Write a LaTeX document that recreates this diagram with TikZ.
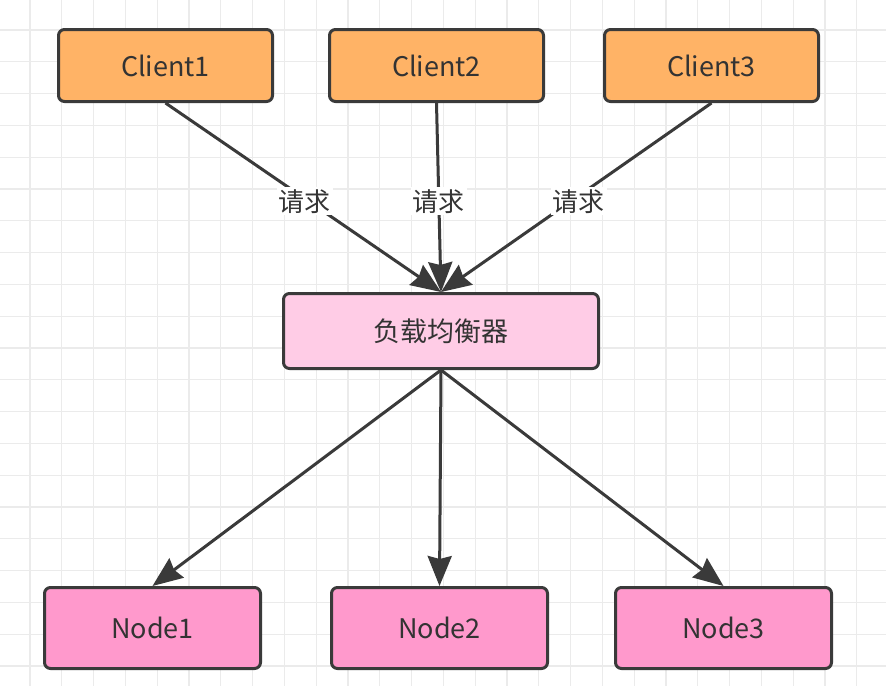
\documentclass[tikz,border=0pt]{standalone}
\usepackage{fontspec}
\setmainfont{Noto Sans CJK SC}
\usetikzlibrary{arrows.meta}
\definecolor{gridc}{HTML}{EBEBEB}
\definecolor{strokec}{HTML}{3A3A3A}
\definecolor{textc}{HTML}{333333}
\definecolor{clientc}{HTML}{FFB366}
\definecolor{lbc}{HTML}{FFCCE6}
\definecolor{nodec}{HTML}{FF99CC}
\tikzset{
  box/.style={draw=strokec, line width=3pt, rounded corners=6pt, text=textc,
    font=\fontsize{27}{30}\selectfont, anchor=north west, inner sep=0pt},
  clientbox/.style={box, fill=clientc, minimum width=214pt, minimum height=72pt},
  lbbox/.style={box, fill=lbc, minimum width=315pt, minimum height=75pt},
  nodebox/.style={box, fill=nodec, minimum width=216pt, minimum height=81pt},
  conn/.style={draw=strokec, line width=3pt, -{Stealth[length=30pt,width=24pt,inset=3pt]}},
  lbl/.style={fill=white, text=textc, font=\fontsize{26}{28}\selectfont, inner sep=2pt}
}
\begin{document}
\begin{tikzpicture}[x=1pt,y=-1pt]
\useasboundingbox (0,0) rectangle (886,686);
\fill[white] (0,0) rectangle (886,686);
\foreach \i in {0,...,27} {
  \draw[gridc, line width=1.2pt] ({30+31.8*\i},0) -- ({30+31.8*\i},686);
}
\foreach \j in {0,...,21} {
  \draw[gridc, line width=1.2pt] (0,{30+31.8*\j}) -- (886,{30+31.8*\j});
}
\node[clientbox] (c1) at (57,28) {Client1};
\node[clientbox] (c2) at (328,28) {Client2};
\node[clientbox] (c3) at (603,28) {Client3};
\node[lbbox] (lb) at (282,292) {负载均衡器};
\node[nodebox] (n1) at (43,586) {Node1};
\node[nodebox] (n2) at (330,586) {Node2};
\node[nodebox] (n3) at (614,586) {Node3};
\draw[conn] (c1.south) -- node[lbl, pos=0.52, xshift=-4pt] {请求} (lb.north);
\draw[conn] (c2.south) -- node[lbl, pos=0.52] {请求} (lb.north);
\draw[conn] (c3.south) -- node[lbl, pos=0.52, xshift=8pt] {请求} (lb.north);
\draw[conn] (lb.south) -- (n1.north);
\draw[conn] (lb.south) -- (n2.north);
\draw[conn] (lb.south) -- (n3.north);
\end{tikzpicture}
\end{document}
